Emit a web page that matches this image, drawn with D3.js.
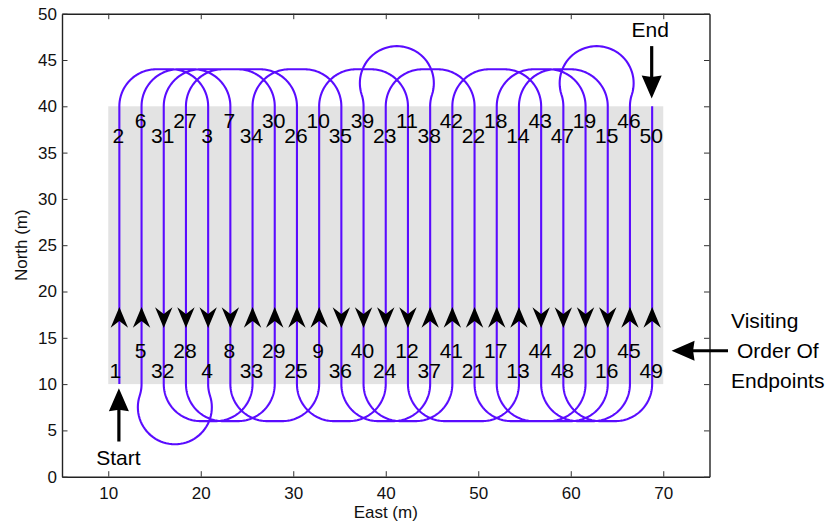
<!DOCTYPE html>
<html><head><meta charset="utf-8">
<script src="https://cdn.jsdelivr.net/npm/d3@7"></script>
<style>
html,body{margin:0;padding:0;background:#fff;}
svg{display:block;font-family:"Liberation Sans",Arial,Helvetica,sans-serif;}
</style></head><body>
<svg id="chart" width="831" height="523"></svg>
<script>
// ---------------- data ----------------
const laneEast = [11.2, 13.6, 16.0, 18.4, 20.8, 23.2, 25.6, 28.0, 30.4, 32.8, 35.2, 37.6, 40.0,
                  42.4, 44.8, 47.2, 49.6, 52.0, 54.4, 56.8, 59.2, 61.6, 64.0, 66.4, 68.8];
const bottomOrder = [1, 5, 32, 28, 4, 8, 33, 29, 25, 9, 36, 40, 24, 12, 37, 41, 21, 17, 13, 44, 48, 20, 16, 45, 49];
const topOrder    = [2, 6, 31, 27, 3, 7, 34, 30, 26, 10, 35, 39, 23, 11, 38, 42, 22, 18, 14, 43, 47, 19, 15, 46, 50];
const fieldEast = [10, 70];
const fieldNorth = [10, 40];
const turnRadius = 4;
const xTicks = [10, 20, 30, 40, 50, 60, 70];
const yTicks = [0, 5, 10, 15, 20, 25, 30, 35, 40, 45, 50];
const xDomain = [5, 75];
const yDomain = [0, 50];
const annotations = {start: "Start", end: "End", order: ["Visiting", "Order Of", "Endpoints"]};

// ---------------- layout ----------------
const W = 831, H = 523;
const L = 62, R = 709.5, T = 13.7, B = 476.7;
const x = d3.scaleLinear().domain(xDomain).range([L, R]);
const y = d3.scaleLinear().domain(yDomain).range([B, T]);
const lineColor = "#5a0cff";
const svg = d3.select("#chart");

// field
svg.append("rect")
  .attr("x", x(fieldEast[0])).attr("y", y(fieldNorth[1]))
  .attr("width", x(fieldEast[1]) - x(fieldEast[0]))
  .attr("height", y(fieldNorth[0]) - y(fieldNorth[1]))
  .attr("fill", "#e3e3e3");

// endpoints
const endpoints = [];
laneEast.forEach((e, i) => {
  endpoints.push({order: bottomOrder[i], x: e, y: fieldNorth[0], edge: -1, lane: i});
  endpoints.push({order: topOrder[i], x: e, y: fieldNorth[1], edge: 1, lane: i});
});
endpoints.sort((a, b) => a.order - b.order);

function turn(p, q) {
  const r = turnRadius, dir = p.edge, y0 = p.y;
  const x1 = p.x, x2 = q.x, d = x2 - x1, s = Math.sign(d), pts = [];
  const arc = (cx, cv, a0, a1, n = 48) => {
    for (let k = 0; k <= n; k++) {
      const a = a0 + (a1 - a0) * k / n;
      pts.push([cx + r * Math.cos(a), y0 + dir * (cv + r * Math.sin(a))]);
    }
  };
  if (Math.abs(d) >= 2 * r) {
    arc(x1 + s * r, 0, s > 0 ? Math.PI : 0, Math.PI / 2);
    arc(x2 - s * r, 0, Math.PI / 2, s > 0 ? 0 : Math.PI);
  } else {
    const D = Math.abs(d) + 2 * r, h = Math.sqrt(4 * r * r - D * D / 4), al = Math.atan2(h, D / 2);
    const c1 = x1 - s * r, c3 = x2 + s * r, c2 = (x1 + x2) / 2;
    if (s > 0) { arc(c1, 0, 0, al); arc(c2, h, Math.PI + al, -al); arc(c3, 0, Math.PI - al, Math.PI); }
    else { arc(c1, 0, Math.PI, Math.PI - al); arc(c2, h, -al, Math.PI + al); arc(c3, 0, al, 0); }
  }
  return pts;
}

const pathPts = [[endpoints[0].x, endpoints[0].y]];
for (let i = 0; i < endpoints.length - 1; i++) {
  const p = endpoints[i], q = endpoints[i + 1];
  if (p.lane === q.lane) pathPts.push([q.x, q.y]);
  else pathPts.push(...turn(p, q));
}
svg.append("path")
  .attr("d", d3.line().x(d => x(d[0])).y(d => y(d[1]))(pathPts))
  .attr("fill", "none").attr("stroke", lineColor).attr("stroke-width", 2.1)
  .attr("stroke-linejoin", "round");

// direction arrowheads
const arrowNorth = 17.2;
svg.append("g").selectAll("path").data(laneEast).join("path")
  .attr("transform", (e, i) => `translate(${x(e)},${y(arrowNorth)}) rotate(${bottomOrder[i] < topOrder[i] ? 0 : 180})`)
  .attr("d", "M0,-10.5 L8.7,10.2 L0,3.5 L-8.7,10.2 Z")
  .attr("fill", "#000");

// endpoint labels
const labG = svg.append("g").attr("font-size", 21).attr("fill", "#000").attr("text-anchor", "middle");
laneEast.forEach((e, i) => {
  const even = i % 2 === 1;
  labG.append("text").attr("x", x(e) - 1).attr("y", y(even ? 37.7 : 36.0)).text(topOrder[i]);
  labG.append("text").attr("x", x(e) - (i === 0 ? 4 : 1)).attr("y", y(even ? 12.85 : 10.65)).text(bottomOrder[i]);
});

// axes
const tick = -5.5;
const ax = (g) => g.attr("font-size", 17).attr("font-family", "Liberation Sans, Arial, sans-serif");
const gB = svg.append("g").attr("transform", `translate(0,${B})`)
  .call(d3.axisBottom(x).tickValues(xTicks).tickSizeInner(tick).tickSizeOuter(0).tickPadding(10)).call(ax);
const gT = svg.append("g").attr("transform", `translate(0,${T})`)
  .call(d3.axisTop(x).tickValues(xTicks).tickSizeInner(tick).tickSizeOuter(0).tickFormat(""));
const gL = svg.append("g").attr("transform", `translate(${L},0)`)
  .call(d3.axisLeft(y).tickValues(yTicks).tickSizeInner(tick).tickSizeOuter(0).tickPadding(5)).call(ax);
const gR = svg.append("g").attr("transform", `translate(${R},0)`)
  .call(d3.axisRight(y).tickValues(yTicks).tickSizeInner(tick).tickSizeOuter(0).tickFormat(""));
[gB, gT, gL, gR].forEach(g => {
  g.select(".domain").attr("stroke", "#222").attr("stroke-width", 1.4);
  g.selectAll(".tick line").attr("stroke", "#333").attr("stroke-width", 1);
  g.selectAll(".tick text").attr("fill", "#111");
});

// axis titles
svg.append("text").attr("x", x(40)).attr("y", 518).attr("text-anchor", "middle")
  .attr("font-size", 17).attr("fill", "#111").text("East (m)");
svg.append("text").attr("transform", `translate(27,${y(25)}) rotate(-90)`).attr("text-anchor", "middle")
  .attr("font-size", 17).attr("fill", "#111").text("North (m)");

// annotation arrows
function bigArrow(x0, y0, x1, y1) {
  const px0 = x(x0), py0 = y(y0), px1 = x(x1), py1 = y(y1);
  const ang = Math.atan2(py1 - py0, px1 - px0) * 180 / Math.PI;
  const len = Math.hypot(px1 - px0, py1 - py0);
  const g = svg.append("g").attr("transform", `translate(${px1},${py1}) rotate(${ang})`);
  g.append("line").attr("x1", -len).attr("y1", 0).attr("x2", -20).attr("y2", 0)
    .attr("stroke", "#000").attr("stroke-width", 3.2);
  g.append("path").attr("d", "M0,0 L-23,-10 L-21.5,0 L-23,10 Z").attr("fill", "#000");
}
bigArrow(laneEast[0] - 0.05, 3.8, laneEast[0] - 0.05, 9.55);
bigArrow(laneEast[24] - 0.05, 46.5, laneEast[24] - 0.05, 40.85);
bigArrow(77.0, 13.6, 70.9, 13.6);

const annG = svg.append("g").attr("font-size", 21).attr("fill", "#000");
annG.append("text").attr("x", x(11.1)).attr("y", y(1.25)).attr("text-anchor", "middle").text(annotations.start);
annG.append("text").attr("x", x(68.6)).attr("y", y(47.45)).attr("text-anchor", "middle").text(annotations.end);
const ordT = annG.append("text").attr("x", 731).attr("y", 328);
annotations.order.forEach((t, i) => {
  ordT.append("tspan").attr("x", i === 1 ? 737 : 731).attr("y", 328 + i * 29.9).text(t);
});
</script>
</body></html>
